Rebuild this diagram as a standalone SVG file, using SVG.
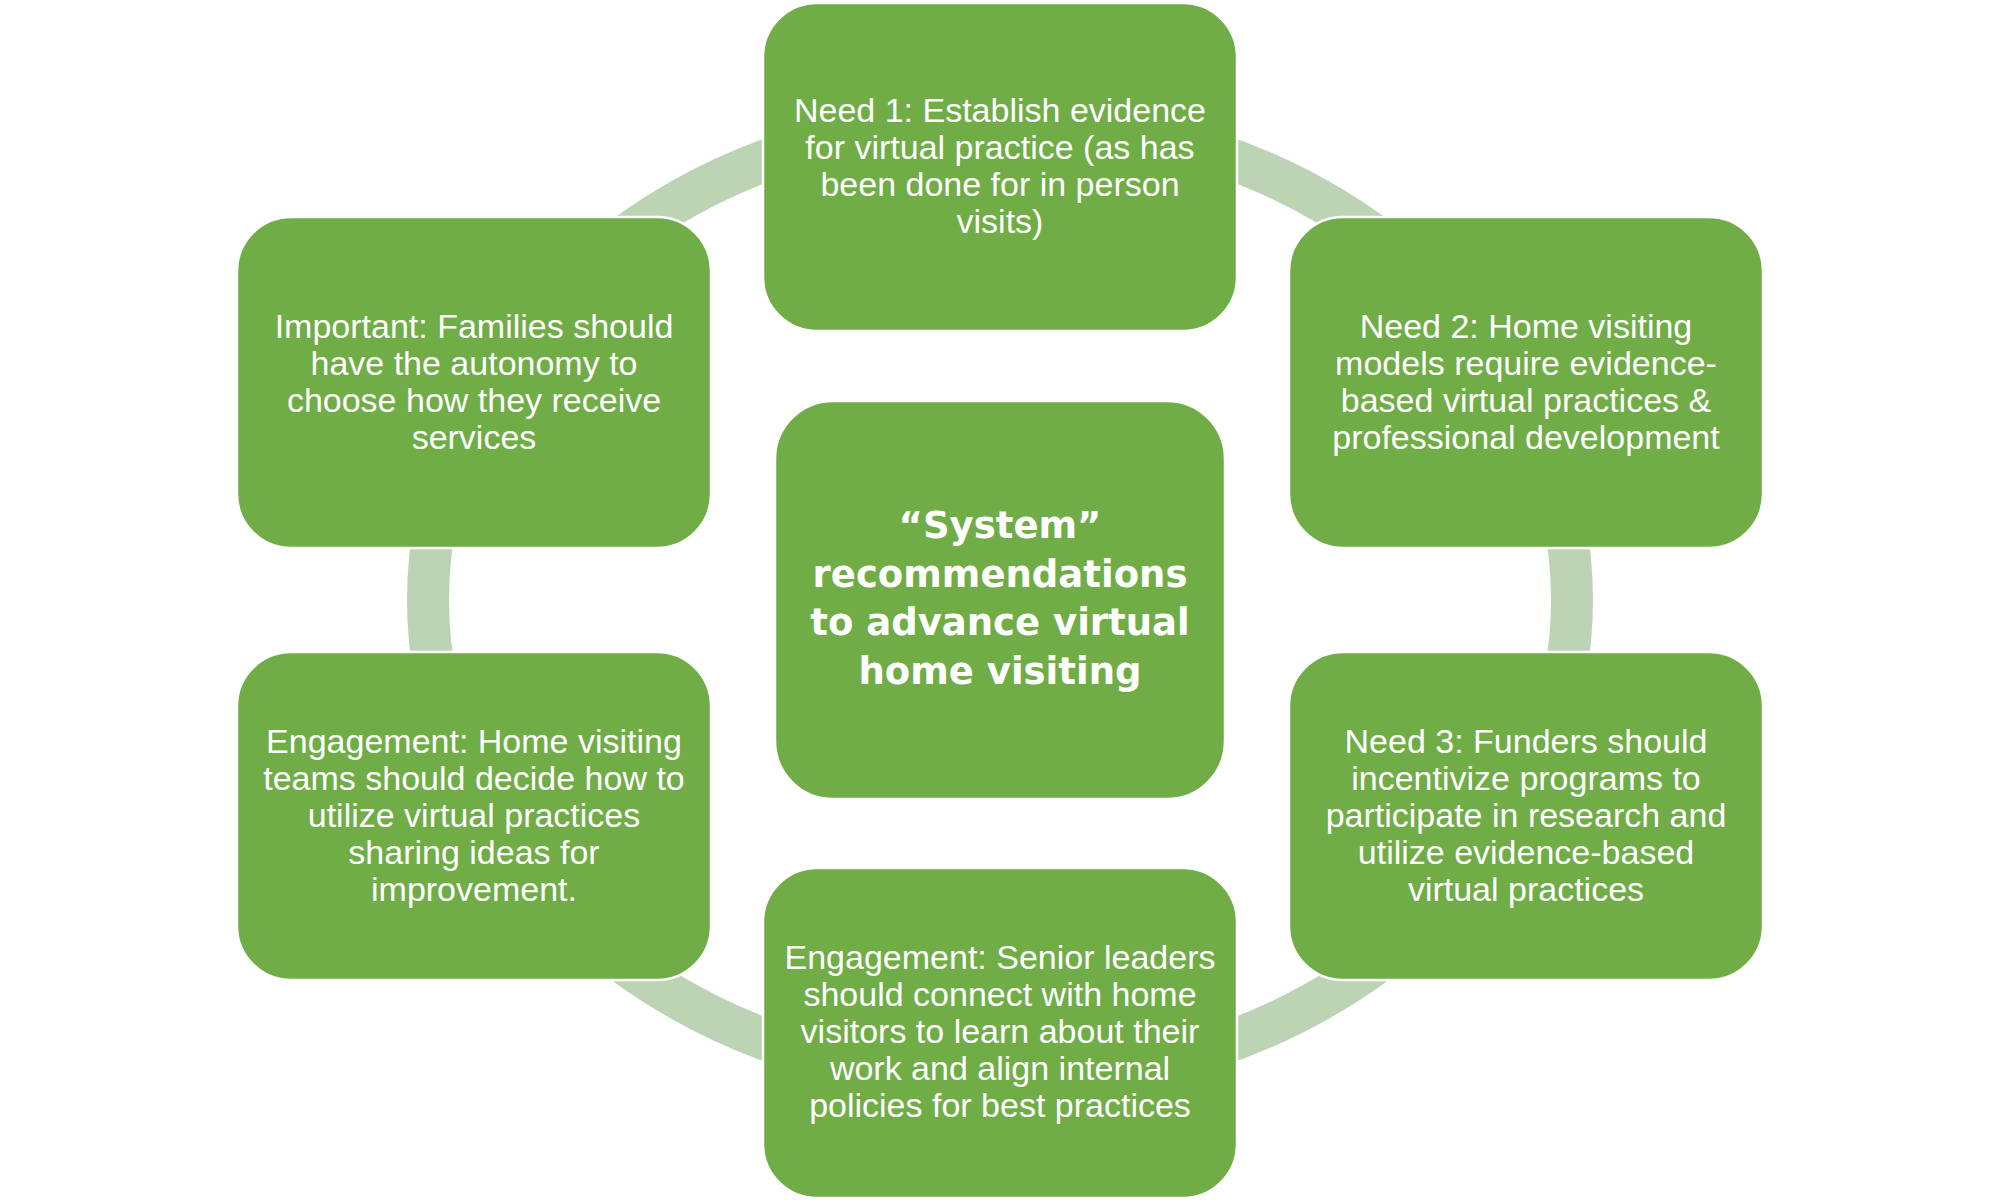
<svg xmlns="http://www.w3.org/2000/svg" width="1999" height="1200" viewBox="0 0 1999 1200">
  <style>
    .box { fill: #70AD47; stroke: #ffffff; stroke-width: 2.5; }
    .t { fill: #ffffff; font-family: "Liberation Sans", Arial, sans-serif; font-size: 34px; text-anchor: middle; }
    .c { fill: #ffffff; font-family: "DejaVu Sans", Verdana, sans-serif; font-weight: bold; font-size: 37px; text-anchor: middle; }
    .ring { fill: none; stroke: #BCD3B4; stroke-width: 42; }
  </style>
  <rect width="1999" height="1200" fill="#ffffff"/>
  <g id="connectors">
    <ellipse class="ring" cx="1000" cy="600" rx="572" ry="482"/>
  </g>
  <g id="node-need1">
    <rect class="box" x="763" y="3" width="474" height="328" rx="54" ry="54"/>
    <text class="t" x="1000" y="122">Need 1: Establish evidence</text>
    <text class="t" x="1000" y="159">for virtual practice (as has</text>
    <text class="t" x="1000" y="196">been done for in person</text>
    <text class="t" x="1000" y="233">visits)</text>
  </g>
  <g id="node-need2">
    <rect class="box" x="1289" y="217" width="474" height="331" rx="54" ry="54"/>
    <text class="t" x="1526" y="338">Need 2: Home visiting</text>
    <text class="t" x="1526" y="375">models require evidence-</text>
    <text class="t" x="1526" y="412">based virtual practices &amp;</text>
    <text class="t" x="1526" y="449">professional development</text>
  </g>
  <g id="node-need3">
    <rect class="box" x="1289" y="652" width="474" height="328" rx="54" ry="54"/>
    <text class="t" x="1526" y="753">Need 3: Funders should</text>
    <text class="t" x="1526" y="790">incentivize programs to</text>
    <text class="t" x="1526" y="827">participate in research and</text>
    <text class="t" x="1526" y="864">utilize evidence-based</text>
    <text class="t" x="1526" y="901">virtual practices</text>
  </g>
  <g id="node-senior">
    <rect class="box" x="763" y="868" width="474" height="330" rx="54" ry="54"/>
    <text class="t" x="1000" y="969">Engagement: Senior leaders</text>
    <text class="t" x="1000" y="1006">should connect with home</text>
    <text class="t" x="1000" y="1043">visitors to learn about their</text>
    <text class="t" x="1000" y="1080">work and align internal</text>
    <text class="t" x="1000" y="1117">policies for best practices</text>
  </g>
  <g id="node-teams">
    <rect class="box" x="237" y="652" width="474" height="328" rx="54" ry="54"/>
    <text class="t" x="474" y="753">Engagement: Home visiting</text>
    <text class="t" x="474" y="790">teams should decide how to</text>
    <text class="t" x="474" y="827">utilize virtual practices</text>
    <text class="t" x="474" y="864">sharing ideas for</text>
    <text class="t" x="474" y="901">improvement.</text>
  </g>
  <g id="node-families">
    <rect class="box" x="237" y="217" width="474" height="331" rx="54" ry="54"/>
    <text class="t" x="474" y="338">Important: Families should</text>
    <text class="t" x="474" y="375">have the autonomy to</text>
    <text class="t" x="474" y="412">choose how they receive</text>
    <text class="t" x="474" y="449">services</text>
  </g>
  <g id="node-center">
    <rect class="box" x="775" y="401" width="450" height="398" rx="58" ry="58"/>
    <text class="c" x="1000" y="538">“System”</text>
    <text class="c" x="1000" y="587">recommendations</text>
    <text class="c" x="1000" y="635">to advance virtual</text>
    <text class="c" x="1000" y="684">home visiting</text>
  </g>
</svg>
